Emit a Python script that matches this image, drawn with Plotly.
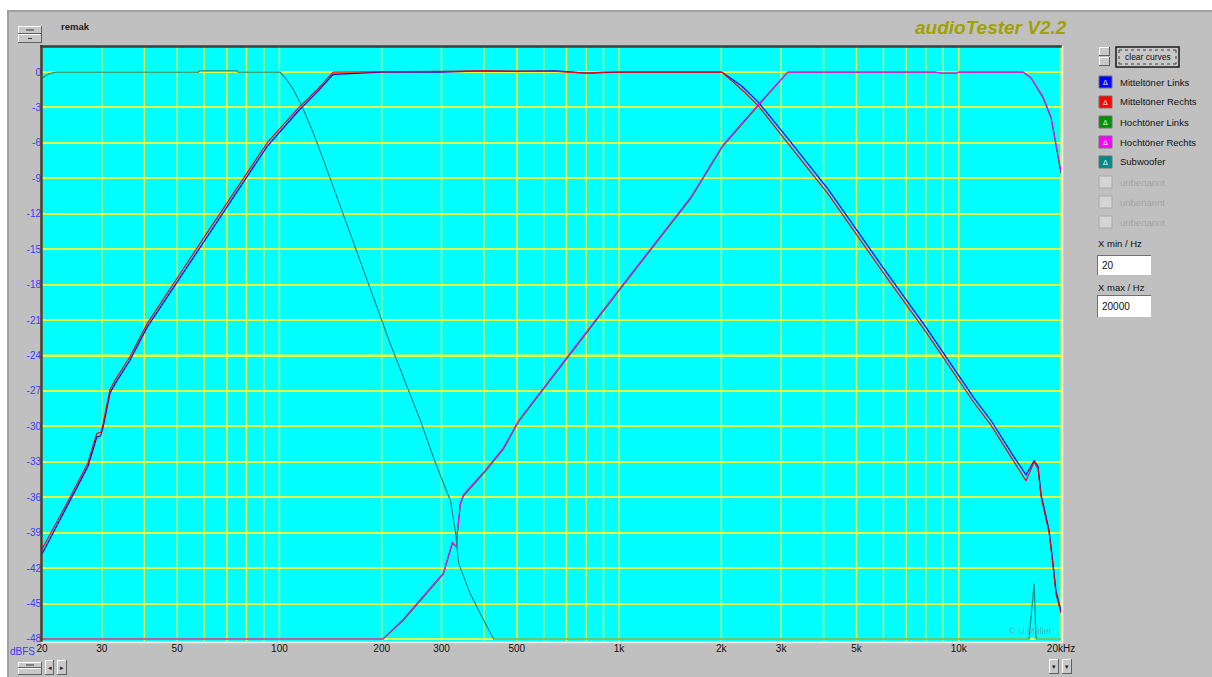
import math
import plotly.graph_objects as go

# ---- measured responses (frequency in Hz, level in dBFS) ----
sub_freq = [20, 21, 22, 57.7, 58, 75, 75.5, 100.5, 105.4, 110, 117, 126, 135, 173, 212,
            260, 288, 319, 330, 337, 365, 399, 427, 1000, 5000, 16100, 16670, 16890, 20000]
sub_db = [-0.5, -0.15, 0, 0, 0.1, 0.1, 0, 0, -0.7, -1.5, -3.0, -5.2, -7.5, -16.1, -23.0,
          -29.5, -33.1, -36.3, -39.0, -41.6, -44.2, -46.4, -48, -48, -48, -48, -43.3, -48, -48]

mid_freq = [20, 23.9, 27.3, 29.0, 29.8, 30.3, 31.7, 32.8, 36.3, 40.8,
            60, 80, 92, 113.6, 130, 144,
            200, 300, 400, 500, 650, 800, 900, 1000, 1500, 2006,
            2300, 2560, 3054, 4117, 6000, 8000,
            11090, 12440, 14550, 15780, 16670, 17120, 17480, 18450, 18960, 19340, 20000]
mid_left_db = [-40.8, -36.6, -33.4, -30.9, -30.8, -30.0, -27.2, -26.4, -24.4, -21.6,
               -14.3, -8.9, -6.3, -3.3, -1.6, -0.2,
               0, 0, 0.1, 0.05, 0.1, -0.1, -0.05, 0, 0, 0,
               -1.2, -2.5, -5.2, -9.9, -16.6, -21.6,
               -27.6, -29.5, -32.6, -34.1, -32.9, -33.4, -35.8, -38.8, -41.7, -44.0, -45.6]
mid_right_db = [-40.4, -36.3, -33.1, -30.6, -30.5, -29.7, -26.9, -26.1, -24.1, -21.3,
                -14.0, -8.6, -6.0, -3.05, -1.4, 0,
                0, 0.05, 0.1, 0.1, 0.05, -0.1, 0, 0, 0, 0,
                -1.5, -2.8, -5.6, -10.3, -17.0, -22.0,
                -28.0, -29.9, -33.0, -34.6, -33.0, -33.6, -36.0, -39.0, -41.9, -44.2, -45.8]

tw_freq = [20, 100, 202, 232, 265, 304, 323, 332, 334, 341, 348,
           383, 404, 457, 506, 700, 1000, 1626, 2018, 2560, 3140,
           5000, 8500, 9000, 9800, 10000, 15460, 16330, 17710, 18700, 20000]
tw_left_db = [-48, -48, -48, -46.4, -44.5, -42.5, -39.9, -40.2, -39.1, -36.6, -35.9,
              -34.5, -33.8, -31.9, -29.6, -24.3, -18.5, -10.7, -6.3, -2.9, 0,
              0, 0, -0.1, -0.1, 0, 0, -0.5, -2.2, -3.9, -8.6]
tw_right_db = [-48, -48, -48, -46.3, -44.4, -42.4, -39.8, -40.2, -39.0, -36.5, -35.8,
               -34.4, -33.7, -31.8, -29.5, -24.2, -18.4, -10.6, -6.2, -2.8, 0,
               0, 0, -0.1, -0.1, 0, 0, -0.5, -2.1, -3.8, -8.4]

# ---- axes ----
x_grid = [20, 30, 40, 50, 60, 70, 80, 90,
          100, 200, 300, 400, 500, 600, 700, 800, 900,
          1000, 2000, 3000, 4000, 5000, 6000, 7000, 8000, 9000,
          10000, 20000]
x_labels = ["20", "30", "", "50", "", "", "", "",
            "100", "200", "300", "", "500", "", "", "", "",
            "1k", "2k", "3k", "", "5k", "", "", "", "",
            "10k", "20kHz"]
y_ticks = [0, -3, -6, -9, -12, -15, -18, -21, -24, -27, -30, -33, -36, -39, -42, -45, -48]
y_labels = [str(v) for v in y_ticks]
X_MIN, X_MAX = 20, 20000

# ---- legend entries ----
legend_names = ["Mitteltöner Links", "Mitteltöner Rechts", "Hochtöner Links",
                "Hochtöner Rechts", "Subwoofer", "unbenannt", "unbenannt", "unbenannt"]
legend_colors = ["#0000ff", "#ff0000", "#009000", "#ff00ff", "#008a8a", None, None, None]

PANEL = "#c0c0c0"
GRID = "#e2ff46"
FONT = "Liberation Sans"

# pixel -> paper coordinates (plot area spans x 42..1061, y 47..641)
L, R, T, B = 42, 1061, 47, 641


def px(x):
    return (x - L) / (R - L)


def py(y):
    return (B - y) / (B - T)


fig = go.Figure()

series = [
    (mid_freq, mid_left_db, legend_colors[0], legend_names[0]),
    (mid_freq, mid_right_db, legend_colors[1], legend_names[1]),
    (tw_freq, tw_left_db, legend_colors[2], legend_names[2]),
    (tw_freq, tw_right_db, legend_colors[3], legend_names[3]),
    (sub_freq, sub_db, legend_colors[4], legend_names[4]),
]
for f, db, col, name in series:
    fig.add_trace(go.Scatter(x=f, y=db, mode="lines", name=name,
                             line=dict(color=col, width=1.2), showlegend=False))

shapes = []
ann = []

# vertical frequency grid (1-2-3-...-9 per decade), placed on the log scale
lo, hi = math.log10(X_MIN), math.log10(X_MAX)
for f in x_grid:
    xf = (math.log10(f) - lo) / (hi - lo)
    shapes.append(dict(type="line", xref="paper", yref="paper", x0=xf, x1=xf, y0=0, y1=1,
                       line=dict(color=GRID, width=1.5), layer="between"))

# thicker reference line at -24 dB
shapes.append(dict(type="line", xref="paper", yref="y", x0=0, x1=1, y0=-24, y1=-24,
                   line=dict(color="#f8ff20", width=2.2), layer="between"))


def rect(x0, y0, x1, y1, fill, line=None, lw=0, layer="above"):
    shapes.append(dict(type="rect", xref="paper", yref="paper",
                       x0=px(x0), x1=px(x1), y0=py(y1), y1=py(y0),
                       fillcolor=fill, line=dict(color=line or fill, width=lw),
                       layer=layer))


def hline(x0, x1, y, color, w=1, layer="above", dash="solid"):
    shapes.append(dict(type="line", xref="paper", yref="paper",
                       x0=px(x0), x1=px(x1), y0=py(y), y1=py(y),
                       line=dict(color=color, width=w, dash=dash), layer=layer))


def vline(x, y0, y1, color, w=1, layer="above", dash="solid"):
    shapes.append(dict(type="line", xref="paper", yref="paper",
                       x0=px(x), x1=px(x), y0=py(y0), y1=py(y1),
                       line=dict(color=color, width=w, dash=dash), layer=layer))


def text(x, y, s, size=9, color="#101010", xanchor="left", family=FONT):
    ann.append(dict(xref="paper", yref="paper", x=px(x), y=py(y), text=s,
                    showarrow=False, xanchor=xanchor, yanchor="middle",
                    font=dict(size=size, color=color, family=family)))


def button(x0, y0, x1, y1):
    rect(x0, y0, x1, y1, "#c8c8c8")
    hline(x0, x1, y0 + 0.5, "#ffffff")
    vline(x0 + 0.5, y0, y1, "#ffffff")
    hline(x0, x1, y1 - 0.5, "#606060")
    vline(x1 - 0.5, y0, y1, "#606060")


# window frame: white strip above/left, darker edge of the panel
rect(0, 0, 1212, 10, "#ffffff")
rect(0, 0, 7, 677, "#ffffff")
hline(7, 1212, 11, "#a0a0a0", 2)
vline(8, 11, 677, "#a0a0a0", 2)

# sunken border of the plot area
hline(L - 2, R + 1, T - 0.5, "#3c3c3c", 2.5)
vline(L - 0.5, T - 2, B + 1, "#3c3c3c", 2.5)
vline(R + 1.5, T - 1, B + 2, "#eeeeee", 1.5)
hline(L - 1, R + 2, B + 1.5, "#eeeeee", 1.5)

# title and remark field
text(991, 27.5, "<b><i>audioTester V2.2</i></b>", size=19, color="#a0a000", xanchor="center")
text(59, 27, "<b>remak</b>", size=9.5, color="#202020")

# small spinner controls
button(18, 26, 42, 34)
button(18, 34, 42, 43)
hline(26, 34, 30, "#303030")
hline(28, 32, 38.5, "#303030")
button(18, 662, 42, 668)
button(18, 668, 42, 675)
hline(26, 34, 665, "#303030")
button(45, 660, 54, 675)
button(57, 660, 67, 675)
text(49.5, 667.5, "◂", size=7, color="#202020", xanchor="center")
text(62, 667.5, "▸", size=7, color="#202020", xanchor="center")
button(1049, 659, 1059, 674)
button(1062, 659, 1072, 674)
text(1054, 666.5, "▾", size=7, color="#202020", xanchor="center")
text(1067, 666.5, "▾", size=7, color="#202020", xanchor="center")

# axis captions
text(37, 651, "dBFS", size=10, color="#3b3bff", xanchor="right")
text(1030, 631, "© U.Müller", size=9, color="#5bb4bc", xanchor="center")

# curve selector panel
button(1099, 47, 1110, 56)
button(1099, 57, 1110, 66)
rect(1116, 47, 1179, 67, "#c8c8c8", "#1a1a1a", 1.5)
hline(1119, 1176, 50, "#404040", 1, dash="dot")
hline(1119, 1176, 64, "#404040", 1, dash="dot")
vline(1119, 50, 64, "#404040", 1, dash="dot")
vline(1176, 50, 64, "#404040", 1, dash="dot")
text(1147.5, 57, "clear curves", size=8.5, color="#101010", xanchor="center")

for i, (name, col) in enumerate(zip(legend_names, legend_colors)):
    y0 = 76 + 20 * i
    if col:
        rect(1099, y0, 1112, y0 + 12, col, "#707070", 1)
        text(1105.5, y0 + 6.5, "Δ", size=7, color="#ffffff", xanchor="center")
        text(1118, y0 + 6, name, size=9.5, color="#101010")
    else:
        rect(1099, y0, 1112, y0 + 12, "#d4d4d4", "#a8a8a8", 1)
        text(1118, y0 + 6, name, size=9.5, color="#a4a4a4")

# frequency limits
text(1096, 243, "X min / Hz", size=9.5, color="#101010")
rect(1097, 255, 1151, 275, "#ffffff", "#ffffff", 0)
hline(1097, 1151, 255.5, "#707070")
vline(1097.5, 255, 275, "#707070")
text(1100, 265, "20", size=10, color="#101010")
text(1096, 287, "X max / Hz", size=9.5, color="#101010")
rect(1097, 295, 1151, 317, "#ffffff", "#ffffff", 0)
hline(1097, 1151, 295.5, "#707070")
vline(1097.5, 295, 317, "#707070")
text(1100, 306, "20000", size=10, color="#101010")

fig.update_layout(
    width=1212, height=677,
    margin=dict(l=L, r=1212 - R, t=T, b=677 - B, pad=0),
    paper_bgcolor=PANEL, plot_bgcolor="#00ffff",
    font=dict(family=FONT, size=10, color="#101010"),
    showlegend=False,
    shapes=shapes, annotations=ann,
    xaxis=dict(type="log", range=[lo, hi],
               tickmode="array", tickvals=x_grid, ticktext=x_labels,
               showgrid=False, zeroline=False, showline=False, ticks="",
               tickfont=dict(size=10, color="#101010")),
    yaxis=dict(range=[-48.17, 2.12],
               tickmode="array", tickvals=y_ticks, ticktext=y_labels,
               showgrid=True, gridcolor=GRID, gridwidth=1.5,
               zeroline=False, showline=False, ticks="",
               tickfont=dict(size=10, color="#3b3bff")),
)

fig.write_html("out.html")
